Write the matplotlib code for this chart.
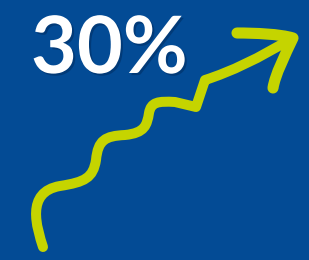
import matplotlib
matplotlib.use("Agg")
import matplotlib.pyplot as plt
from matplotlib.path import Path
from matplotlib.patches import PathPatch
import matplotlib.patheffects as pe

# Data (pixel-space control points of the wavy growth arrow)
label = "30%"
stem_points = [
    (43, 247),
    (37, 228), (25, 192), (60, 186),
    (85, 182), (93, 178), (96, 160),
    (98, 140), (105, 136), (125, 135),
    (145, 133), (147, 125), (149, 113),
    (151, 102), (158, 101), (175, 102),
    (196, 107),
    (205, 80),
    (230, 72), (260, 58), (292, 38),
]
stem_codes = ([Path.MOVETO] + [Path.CURVE4] * 15 + [Path.LINETO] * 2 + [Path.CURVE4] * 3)
head_points = [
    (237, 33),
    (255, 33), (280, 34), (293, 38),
    (285, 55), (275, 75), (273, 88),
]
head_codes = [Path.MOVETO] + [Path.CURVE4] * 6

BG = "#034b95"
LINE = "#c5d400"

fig = plt.figure(figsize=(3.09, 2.60), dpi=100)
fig.patch.set_facecolor(BG)
ax = fig.add_axes([0, 0, 1, 1])
ax.set_facecolor(BG)
ax.set_xlim(0, 309)
ax.set_ylim(260, 0)
ax.axis("off")

for pts, codes, lw in [(stem_points, stem_codes, 7.2), (head_points, head_codes, 8.0)]:
    patch = PathPatch(Path(pts, codes), facecolor="none", edgecolor=LINE,
                      linewidth=lw, capstyle="round", joinstyle="round")
    ax.add_patch(patch)

ax.text(31, 73, label, color="white", fontsize=57, fontweight="bold",
        family=["Lato", "DejaVu Sans"], ha="left", va="baseline",
        path_effects=[pe.withSimplePatchShadow(offset=(1.5, -1.5), shadow_rgbFace="#00224d", alpha=0.4)])

fig.savefig("out.png", dpi=100, facecolor=BG)
